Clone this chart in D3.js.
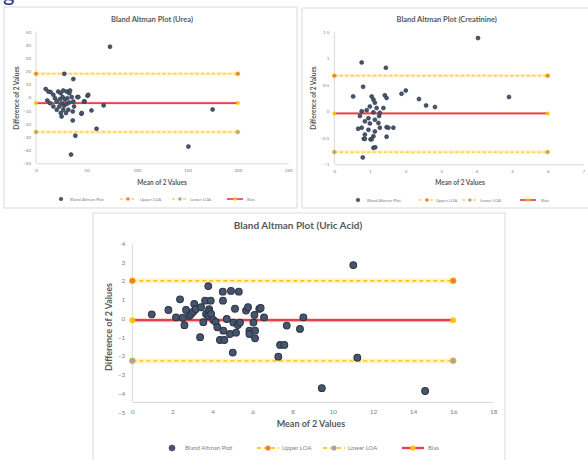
<!DOCTYPE html>
<html><head><meta charset="utf-8">
<script src="https://cdn.jsdelivr.net/npm/d3@7"></script>
<style>html,body{margin:0;padding:0;background:#fff;}svg{display:block;font-family:Lato,"Open Sans",sans-serif;}</style>
</head><body>
<svg id="c" width="588" height="460"></svg>
<script>
// ---------- DATA ----------
const ureaMean = [73.3,28,37,51,41,55,67,60,39,34.7,151,175,45,36.4,48,
  9.6,12.2,14.5,17.2,11.2,18.8,22,24.5,27,30.4,33,33.7,20.5,23.8,26.4,28.7,31,25.4,27.8,23.1,30.4,33,35.4,37,37.7,27,24.5,29.7,25.4,20.6,17.2,13.9,32,36.4,42,45.3,51.8,47.6];
const ureaDiff = [38.6,18,14,1.3,0.3,-9.8,-6,-23.7,-29,-43.4,-37.3,-9.1,-12.3,-17.4,-3,
  6.4,4.5,4.1,2,-2.3,-0.5,4.5,3.3,5.3,4.5,3.3,5.3,-3,-1.2,0.3,-1.7,-0.5,-4.3,-6.3,-6.8,-5,-3.8,0.3,-3,-6.8,-9.3,-11.8,-11.8,-14.4,-9.3,-6.8,-4.3,-9.3,-10.6,0.3,-11.8,2,-3];
const ureaLimits = {upper: 18, bias: -4.2, lower: -26.2};
const ureaLimitX = [0, 200];
const ureaXTicks = [0, 50, 100, 150, 200, 250];
const ureaYTicks = [-50, -40, -30, -20, -10, 0, 10, 20, 30, 40, 50];

const creatMean = [4.04,0.77,1.45,0.81,0.53,1.42,1.89,2.01,2.38,2.58,2.83,4.91,0.8,1.1,1.15,1.47,1.66,1.47,0.83,1.02,
  1.05,1.1,1.14,1.47,1.0,1.19,0.77,0.91,1.1,1.28,0.72,0.96,1.14,0.86,1.0,1.24,0.77,0.96,1.14,1.28,0.86,1.1,1.52,0.86,1.05,0.67,1.26,1.38];
const creatDiff = [1.38,0.92,0.82,0.46,0.28,0.3,0.33,0.39,0.23,0.11,0.08,0.27,-0.87,-0.69,-0.68,-0.3,-0.31,-0.48,-0.52,-0.53,
  0.28,0.22,0.16,0.25,0.09,0.06,0.0,0.02,-0.02,-0.03,-0.09,-0.13,-0.16,-0.19,-0.23,-0.22,-0.31,-0.35,-0.38,-0.31,-0.44,-0.47,-0.31,-0.52,-0.53,-0.33,-0.09,0.06];
const creatLimits = {upper: 0.67, bias: -0.04, lower: -0.77};
const creatLimitX = [0, 6];
const creatXTicks = [0, 1, 2, 3, 4, 5, 6, 7];
const creatYTicks = [-1, -0.5, 0, 0.5, 1, 1.5];

const uricMean = [0.97,1.8,2.18,2.38,2.51,2.6,2.68,2.84,2.93,3.04,3.09,3.16,3.38,3.43,3.54,3.63,3.68,3.79,3.83,3.84,3.79,3.91,3.93,4.04,4.16,4.24,4.37,4.51,4.52,4.54,4.59,4.71,4.87,4.92,5.01,5.04,5.12,5.17,5.26,5.31,5.37,5.67,5.77,5.84,5.84,6.04,6.09,6.12,6.12,6.33,6.4,6.57,7.28,7.37,7.58,7.7,8.36,8.53,9.45,11.02,11.22,14.6];
const uricDiff = [0.21,0.44,0.05,1.01,0.03,-0.37,0.44,0.12,0.21,0.35,0.76,0.48,-1.01,0.59,-0.21,0.94,0.23,1.72,0.48,0.35,0.12,0.94,0.23,-0.09,-0.2,-0.48,-1.16,1.42,0.94,-0.66,-1.16,-0.04,-0.84,1.46,-1.83,-0.23,0.51,-0.77,-0.36,1.42,-0.23,0.41,0.59,-0.66,-0.84,-0.23,0.18,-0.66,-1.07,0.5,0.55,0.05,-2.05,-1.42,-1.42,-0.39,-0.57,0.05,-3.73,2.84,-2.1,-3.88];
const uricLimits = {upper: 2.0, bias: -0.1, lower: -2.27};
const uricLimitX = [0, 16];
const uricXTicks = [0, 2, 4, 6, 8, 10, 12, 14, 16, 18];
const uricYTicks = [-5, -4, -3, -2, -1, 0, 1, 2, 3, 4];

const legendLabels = ["Bland Altman Plot", "Upper LOA", "Lower LOA", "Bias"];

// ---------- STYLE ----------
const C = {
  point: "#46546e", pointStroke: "#2b3546",
  dash: "#FFC000", halo: "#FFF2CC",
  bias: "#E8404E", biasHalo: "#FBD5D5",
  upperMk: "#ED7D31", lowerMk: "#A5A5A5", biasMk: "#FFC000",
  axis: "#D9D9D9", text: "#595959", tick: "#7F7F7F", border: "#D9D9D9"
};

const svg = d3.select("#c");

// stray heading fragment at top-left
svg.append("text").attr("x", 3).attr("y", 1).attr("font-size", 22).attr("fill", "#2b2f86")
  .attr("font-family", "Lato, sans-serif").text("g");

function panel(cfg) {
  const g = svg.append("g");
  g.append("rect").attr("x", cfg.box[0]).attr("y", cfg.box[1]).attr("width", cfg.box[2]).attr("height", cfg.box[3])
    .attr("fill", "#fff").attr("stroke", C.border).attr("stroke-width", 1);

  const x = d3.scaleLinear().domain(cfg.xDomain).range(cfg.xRange);
  const y = d3.scaleLinear().domain(cfg.yDomain).range(cfg.yRange);
  const axisY = y(cfg.xAxisAt);

  // axes
  const xa = g.append("g").attr("transform", `translate(0,${axisY})`)
    .call(d3.axisBottom(x).tickValues(cfg.xTicks).tickSize(0).tickPadding(cfg.xPad).tickFormat(d3.format("")));
  xa.select(".domain").attr("stroke", C.axis).attr("stroke-width", 1);
  xa.selectAll("text").attr("fill", C.tick).attr("font-size", cfg.tickFs).attr("font-family", "Lato, sans-serif");

  const ya = g.append("g").attr("transform", `translate(${x(cfg.xDomain[0])},0)`)
    .call(d3.axisLeft(y).tickValues(cfg.yTicks).tickSize(0).tickPadding(cfg.yPad).tickFormat(d3.format("")));
  ya.select(".domain").remove();
  ya.selectAll("text").attr("fill", C.tick).attr("font-size", cfg.tickFs).attr("font-family", "Lato, sans-serif");
  g.append("line").attr("x1", x(cfg.xDomain[0])).attr("x2", x(cfg.xDomain[0]))
    .attr("y1", y(cfg.yDomain[1])).attr("y2", axisY).attr("stroke", C.axis).attr("stroke-width", 1);

  // limit lines
  const lx0 = x(cfg.limitX[0]), lx1 = x(cfg.limitX[1]);
  [["upper", C.upperMk], ["lower", C.lowerMk]].forEach(([k, mk]) => {
    const yy = y(cfg.limits[k]);
    g.append("line").attr("x1", lx0).attr("x2", lx1).attr("y1", yy).attr("y2", yy)
      .attr("stroke", C.halo).attr("stroke-width", cfg.lw * 3.5);
    g.append("line").attr("x1", lx0).attr("x2", lx1).attr("y1", yy).attr("y2", yy)
      .attr("stroke", C.dash).attr("stroke-width", cfg.lw).attr("stroke-dasharray", cfg.dash);
    cfg.limitX.forEach(v => g.append("circle").attr("cx", x(v)).attr("cy", yy).attr("r", cfg.mr)
      .attr("fill", mk).attr("stroke", C.dash).attr("stroke-width", 0.6));
  });
  const yb = y(cfg.limits.bias);
  g.append("line").attr("x1", lx0).attr("x2", lx1).attr("y1", yb).attr("y2", yb)
    .attr("stroke", C.biasHalo).attr("stroke-width", cfg.lw * 3);
  g.append("line").attr("x1", lx0).attr("x2", lx1).attr("y1", yb).attr("y2", yb)
    .attr("stroke", C.bias).attr("stroke-width", cfg.lw * 1.7);
  cfg.limitX.forEach(v => g.append("circle").attr("cx", x(v)).attr("cy", yb).attr("r", cfg.mr)
    .attr("fill", C.biasMk).attr("opacity", 0.9));

  // points
  g.selectAll("circle.pt").data(d3.zip(cfg.mean, cfg.diff)).join("circle").attr("class", "pt")
    .attr("cx", d => x(d[0])).attr("cy", d => y(d[1])).attr("r", cfg.pr)
    .attr("fill", C.point).attr("stroke", C.pointStroke).attr("stroke-width", cfg.pr * 0.3);

  // titles
  g.append("text").attr("x", cfg.title[0]).attr("y", cfg.title[1]).attr("text-anchor", "middle")
    .attr("font-size", cfg.titleFs).attr("font-weight", "bold").attr("fill", C.text).text(cfg.titleText);
  g.append("text").attr("x", cfg.xTitle[0]).attr("y", cfg.xTitle[1]).attr("text-anchor", "middle")
    .attr("font-size", cfg.axisFs).attr("font-weight", "bold").attr("fill", C.text).text("Mean of 2 Values");
  g.append("text").attr("transform", `translate(${cfg.yTitle[0]},${cfg.yTitle[1]}) rotate(-90)`).attr("text-anchor", "middle")
    .attr("font-size", cfg.axisFs).attr("font-weight", "bold").attr("fill", C.text).text("Difference of 2 Values");

  // legend
  const ly = cfg.legend.y;
  const L = cfg.legend.items;
  g.append("circle").attr("cx", L[0][0]).attr("cy", ly).attr("r", cfg.pr * 0.9).attr("fill", C.point).attr("stroke", C.pointStroke).attr("stroke-width", 0.5);
  [[1, C.upperMk], [2, C.lowerMk]].forEach(([i, mk]) => {
    g.append("line").attr("x1", L[i][0] - cfg.legend.half).attr("x2", L[i][0] + cfg.legend.half).attr("y1", ly).attr("y2", ly)
      .attr("stroke", C.dash).attr("stroke-width", cfg.lw).attr("stroke-dasharray", cfg.dash);
    g.append("circle").attr("cx", L[i][0]).attr("cy", ly).attr("r", cfg.mr * 0.85).attr("fill", mk);
  });
  g.append("line").attr("x1", L[3][0] - cfg.legend.half).attr("x2", L[3][0] + cfg.legend.half).attr("y1", ly).attr("y2", ly)
    .attr("stroke", C.bias).attr("stroke-width", cfg.lw * 1.7);
  g.append("circle").attr("cx", L[3][0]).attr("cy", ly).attr("r", cfg.mr * 0.85).attr("fill", C.biasMk);
  legendLabels.forEach((t, i) => g.append("text").attr("x", L[i][1]).attr("y", ly).attr("dy", "0.35em")
    .attr("font-size", cfg.legend.fs).attr("fill", C.tick).text(t));
}

panel({
  box: [4, 7, 293, 201], xDomain: [0, 250], xRange: [36, 288.3], yDomain: [-50, 50], yRange: [163.3, 31.7], xAxisAt: -50,
  xTicks: ureaXTicks, yTicks: ureaYTicks, xPad: 6, yPad: 5, tickFs: 4.5,
  limits: ureaLimits, limitX: ureaLimitX, mean: ureaMean, diff: ureaDiff,
  lw: 1, dash: "3,2.5", mr: 2, pr: 2,
  title: [152, 21.5], titleText: "Bland Altman Plot (Urea)", titleFs: 7.5,
  xTitle: [162, 184.5], yTitle: [19, 98], axisFs: 6.5,
  legend: {y: 199, half: 8, fs: 4.3, items: [[61, 70], [128, 140], [180, 190], [235, 247]]}
});

panel({
  box: [302, 8, 290, 200], xDomain: [0, 7], xRange: [334.3, 583.3], yDomain: [-1, 1.5], yRange: [164.3, 31.7], xAxisAt: -1,
  xTicks: creatXTicks, yTicks: creatYTicks, xPad: 6, yPad: 5, tickFs: 4.5,
  limits: creatLimits, limitX: creatLimitX, mean: creatMean, diff: creatDiff,
  lw: 1, dash: "3,2.5", mr: 2, pr: 2,
  title: [446.7, 21.5], titleText: "Bland Altman Plot (Creatinine)", titleFs: 7.5,
  xTitle: [460, 185], yTitle: [316, 98], axisFs: 6.5,
  legend: {y: 200, half: 8, fs: 4.3, items: [[358, 367], [427, 436], [470, 480], [528, 541]]}
});

panel({
  box: [93, 213, 412, 252], xDomain: [0, 18], xRange: [132.3, 493.3], yDomain: [-5, 4], yRange: [412, 243.3], xAxisAt: -4.47,
  xTicks: uricXTicks, yTicks: uricYTicks, xPad: 7, yPad: 7, tickFs: 6.5,
  limits: uricLimits, limitX: uricLimitX, mean: uricMean, diff: uricDiff,
  lw: 1.4, dash: "4,3", mr: 3, pr: 3.4,
  title: [298, 228.5], titleText: "Bland Altman Plot (Uric Acid)", titleFs: 10,
  xTitle: [311, 426.5], yTitle: [112, 327], axisFs: 9,
  legend: {y: 448, half: 11, fs: 6, items: [[172, 185], [268, 282], [334, 348], [413, 428]]}
});
</script>
</body></html>
